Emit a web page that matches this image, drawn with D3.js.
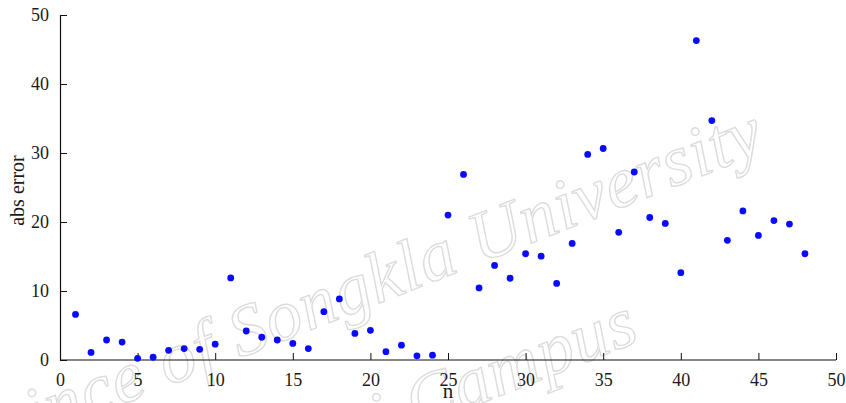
<!DOCTYPE html>
<html>
<head>
<meta charset="utf-8">
<script src="https://cdn.jsdelivr.net/npm/d3@7"></script>
<style>
  html, body { margin: 0; padding: 0; background: #fff; }
  svg { display: block; }
  text { font-family: "Liberation Serif", "Times New Roman", serif; fill: #1a1a1a; }
</style>
</head>
<body>
<svg id="chart" width="846" height="403"></svg>
<script>
// Absolute error for each n
const nValues = d3.range(1, 49);
const absError = [
  6.6, 1.1, 2.9, 2.6, 0.25, 0.4, 1.4, 1.65, 1.55, 2.3,
  11.9, 4.2, 3.3, 2.9, 2.4, 1.65, 7.0, 8.85, 3.85, 4.3,
  1.2, 2.15, 0.6, 0.7, 21.0, 26.9, 10.45, 13.7, 11.85, 15.4,
  15.05, 11.1, 16.9, 29.8, 30.65, 18.5, 27.25, 20.65, 19.8, 12.65,
  46.3, 34.7, 17.35, 21.6, 18.05, 20.2, 19.7, 15.4
];
const xTicks = [0, 5, 10, 15, 20, 25, 30, 35, 40, 45, 50];
const yTicks = [0, 10, 20, 30, 40, 50];
const xLabel = "n";
const yLabel = "abs error";
const watermarkLines = ["Prince of Songkla University", "Pattani Campus"];

const svg = d3.select("#chart");
const margin = { left: 60, right: 10, top: 15, bottom: 43 };

const x = d3.scaleLinear().domain([0, 50]).range([margin.left, 836]);
const y = d3.scaleLinear().domain([0, 50]).range([360, margin.top]);

// faint rotated watermark behind the plot
const wm = svg.append("g").attr("class", "watermark");
const wmPos = [[768, 150], [642, 340]];
wm.selectAll("text")
  .data(watermarkLines)
  .join("text")
  .attr("transform", (d, i) => `translate(${wmPos[i][0]},${wmPos[i][1]}) rotate(-21.5)`)
  .attr("text-anchor", "end")
  .style("font-style", "italic")
  .style("font-size", "72px")
  .style("letter-spacing", "1px")
  .style("fill", "#fff")
  .style("stroke", "#dcdcdc")
  .style("stroke-width", 1.4)
  .text(d => d);

// axes with inward ticks
const xAxis = d3.axisBottom(x).tickValues(xTicks).tickSizeInner(-7).tickSizeOuter(0).tickPadding(13);
const yAxis = d3.axisLeft(y).tickValues(yTicks).tickSizeInner(-7).tickSizeOuter(0).tickPadding(13);

const gx = svg.append("g").attr("transform", `translate(0,${y(0)})`).call(xAxis);
const gy = svg.append("g").attr("transform", `translate(${x(0)},0)`).call(yAxis);

[gx, gy].forEach(g => {
  g.select(".domain").attr("stroke", "#111").attr("stroke-width", 1.2);
  g.selectAll(".tick line").attr("stroke", "#111").attr("stroke-width", 1);
  g.selectAll(".tick text")
    .style("font-family", '"Liberation Serif", serif')
    .style("font-size", "18px")
    .attr("fill", "#1a1a1a");
});
gx.select(".domain").attr("d", `M${x(0)},0H${x(50)}`);
gy.selectAll(".tick text").attr("dx", "2");

// axis titles
svg.append("text")
  .attr("x", x(25))
  .attr("y", 398)
  .attr("text-anchor", "middle")
  .style("font-size", "21px")
  .text(xLabel);

svg.append("text")
  .attr("transform", `translate(24,${y(25) + 3}) rotate(-90)`)
  .attr("text-anchor", "middle")
  .style("font-size", "20px")
  .text(yLabel);

// data points
svg.append("g")
  .selectAll("circle")
  .data(nValues.map((n, i) => ({ n, v: absError[i] })))
  .join("circle")
  .attr("cx", d => x(d.n))
  .attr("cy", d => y(d.v))
  .attr("r", 3.4)
  .attr("fill", "#0a0aff");
</script>
</body>
</html>
